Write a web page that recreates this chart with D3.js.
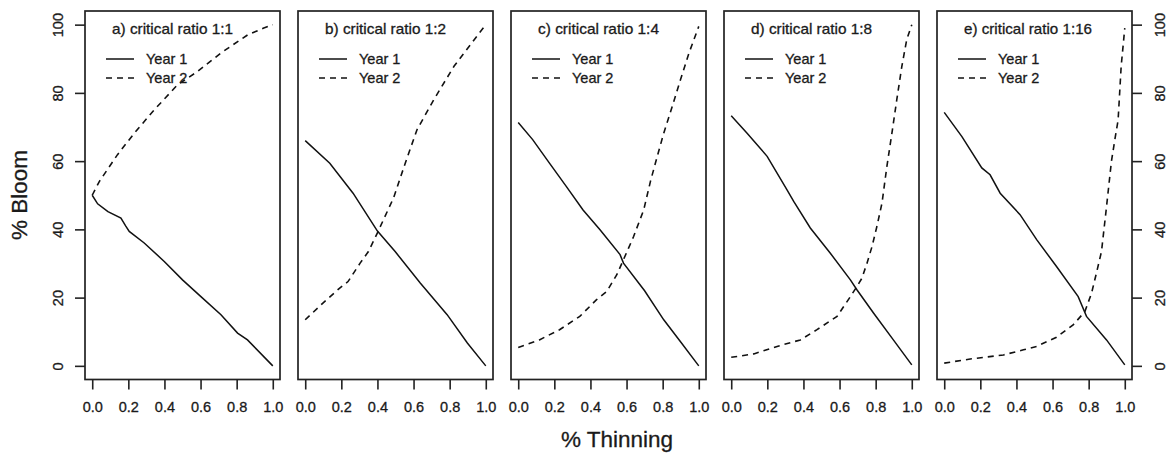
<!DOCTYPE html>
<html>
<head>
<meta charset="utf-8">
<script src="https://cdnjs.cloudflare.com/ajax/libs/d3/7.8.5/d3.min.js"></script>
<style>
  body { margin: 0; background: #fff; }
  svg { font-family: "Liberation Sans", Arial, sans-serif; }
  text { fill: #1a1a1a; stroke: #1a1a1a; stroke-width: 0.3px; }
</style>
</head>
<body>
<svg id="chart"></svg>
<script>
var panelTitles = ['a) critical ratio 1:1', 'b) critical ratio 1:2', 'c) critical ratio 1:4',
                   'd) critical ratio 1:8', 'e) critical ratio 1:16'];
var legendLabels = ['Year 1', 'Year 2'];
var xTicks = [0, 0.2, 0.4, 0.6, 0.8, 1.0];
var yTicks = [0, 20, 40, 60, 80, 100];

// [thinning, bloom]
var year1A = [[0, 50], [0.03, 47.5], [0.087, 45.2], [0.159, 43.3], [0.185, 41], [0.205, 39.4],
  [0.288, 36], [0.399, 30.6], [0.5, 25.2], [0.602, 20.3], [0.713, 15], [0.805, 9.6],
  [0.86, 7.6], [1.0, 0]];
var year2A = [[0, 50], [0.039, 54], [0.14, 61.9], [0.233, 68.2], [0.343, 75], [0.473, 82.4],
  [0.584, 86.3], [0.713, 91.7], [0.861, 97], [0.95, 99], [1.0, 100]];

var year1B = [[0, 66], [0.136, 59.4], [0.265, 50.6], [0.4, 39.5], [0.498, 33.5], [0.637, 24.3],
  [0.786, 15], [0.898, 6.7], [1.0, 0]];
var year2B = [[0, 13.5], [0.098, 18.4], [0.191, 22.8], [0.237, 24.7], [0.304, 30.1], [0.35, 33.5],
  [0.4, 39], [0.489, 49.2], [0.554, 59.4], [0.619, 69.2], [0.712, 78], [0.824, 87.8],
  [0.936, 95.6], [1.0, 100]];

var year1C = [[0, 71.3], [0.08, 66.3], [0.173, 59.4], [0.266, 52.6], [0.359, 45.7], [0.453, 39.9],
  [0.564, 32.6], [0.583, 30.1], [0.7, 22], [0.806, 13.5], [0.9, 7], [1.0, 0]];
var year2C = [[0, 5.4], [0.117, 7.6], [0.229, 10.6], [0.341, 14.5], [0.434, 19.4], [0.49, 21.8],
  [0.546, 26.7], [0.611, 34.5], [0.639, 37.9], [0.695, 45.7], [0.732, 54], [0.77, 61.4],
  [0.806, 68.2], [0.853, 76], [0.899, 83.9], [0.946, 91.7], [1.0, 99.5]];

var year1D = [[0, 73.3], [0.088, 68.2], [0.199, 61.4], [0.309, 51.6], [0.346, 48.2], [0.438, 40.4],
  [0.549, 33], [0.66, 25.2], [0.696, 22.3], [0.788, 15.5], [0.898, 7.6], [1.0, 0.3]];
var year2D = [[0, 2.5], [0.125, 3.5], [0.254, 5.7], [0.383, 7.6], [0.475, 10.6], [0.586, 14.5],
  [0.623, 17.4], [0.66, 20.3], [0.697, 23.3], [0.724, 25.7], [0.752, 30.1], [0.78, 35],
  [0.807, 40.9], [0.835, 47.7], [0.862, 58.4], [0.89, 68.2], [0.917, 78], [0.945, 87.8],
  [0.972, 95.6], [1.0, 100]];

var year1E = [[0, 74.3], [0.098, 67.2], [0.208, 58], [0.254, 56], [0.31, 50.6], [0.42, 44.3],
  [0.512, 37], [0.622, 29.1], [0.742, 20.3], [0.788, 14.5], [0.899, 7.6], [1.0, 0.3]];
var year2E = [[0, 0.8], [0.144, 2], [0.328, 3.2], [0.439, 4.7], [0.512, 5.7], [0.622, 8.4],
  [0.714, 12], [0.779, 15.9], [0.816, 21.3], [0.843, 27.2], [0.871, 33.5], [0.899, 46.7],
  [0.926, 59.9], [0.945, 66.3], [0.963, 72], [0.98, 87.8], [1.0, 99]];

var year1Series = [year1A, year1B, year1C, year1D, year1E];
var year2Series = [year2A, year2B, year2C, year2D, year2E];

var width = 1174;
var height = 454;
var panelLeft = 85;
var panelStep = 213;
var panelWidth = 195;
var panelTop = 11;
var panelBottom = 379.5;
var dash = '6,5';
var fontFamily = '"Liberation Sans", Arial, sans-serif';

var svg = d3.select('#chart')
  .attr('width', width)
  .attr('height', height);

var yScale = d3.scaleLinear()
  .domain([-4, 104])
  .range([panelBottom, panelTop]);

var line = d3.line();

for (var i = 0; i < panelTitles.length; i++) {
  var left = panelLeft + i * panelStep;
  var xScale = d3.scaleLinear()
    .domain([-0.04, 1.04])
    .range([left, left + panelWidth]);

  line.x(function(d) { return xScale(d[0]); })
    .y(function(d) { return yScale(d[1]); });

  var g = svg.append('g');

  g.append('path')
    .attr('d', line(year2Series[i]))
    .attr('fill', 'none')
    .attr('stroke', '#111')
    .attr('stroke-width', 1.6)
    .attr('stroke-dasharray', dash);

  g.append('path')
    .attr('d', line(year1Series[i]))
    .attr('fill', 'none')
    .attr('stroke', '#111')
    .attr('stroke-width', 1.5);

  // box
  g.append('rect')
    .attr('x', left)
    .attr('y', panelTop)
    .attr('width', panelWidth)
    .attr('height', panelBottom - panelTop)
    .attr('fill', 'none')
    .attr('stroke', '#222')
    .attr('stroke-width', 1.7);

  // x axis
  var xAxis = g.append('g')
    .attr('transform', 'translate(0,' + panelBottom + ')')
    .call(d3.axisBottom(xScale)
      .tickValues(xTicks)
      .tickSize(10)
      .tickPadding(12)
      .tickFormat(d3.format('.1f')));
  xAxis.select('.domain').remove();
  xAxis.selectAll('line').attr('stroke', '#222').attr('stroke-width', 1.6);
  xAxis.selectAll('text')
    .attr('font-size', 14.5)
    .attr('font-family', fontFamily)
    .attr('fill', '#1a1a1a');

  // legend
  var lx = left + 21;
  g.append('text')
    .attr('x', left + 27)
    .attr('y', 34)
    .attr('font-size', 15)
    .attr('textLength', i == 4 ? 128 : 121)
    .attr('lengthAdjust', 'spacingAndGlyphs')
    .text(panelTitles[i]);

  for (var k = 0; k < legendLabels.length; k++) {
    var ly = 59 + k * 19;
    g.append('line')
      .attr('x1', lx)
      .attr('x2', lx + 28)
      .attr('y1', ly)
      .attr('y2', ly)
      .attr('stroke', '#111')
      .attr('stroke-width', 1.5)
      .attr('stroke-dasharray', k == 1 ? dash : null);
    g.append('text')
      .attr('x', lx + 40)
      .attr('y', ly + 5)
      .attr('font-size', 14.5)
      .text(legendLabels[k]);
  }
}

// y axes (left on first panel, right on last)
function yAxisLabels(sel, offset) {
  sel.select('.domain').remove();
  sel.selectAll('line').attr('stroke', '#222').attr('stroke-width', 1.6);
  sel.selectAll('text')
    .attr('x', null)
    .attr('dy', null)
    .attr('text-anchor', 'middle')
    .attr('font-size', 14.5)
    .attr('font-family', fontFamily)
    .attr('fill', '#1a1a1a')
    .attr('transform', 'translate(' + offset + ',0) rotate(-90)');
}

svg.append('g')
  .attr('transform', 'translate(' + panelLeft + ',0)')
  .call(d3.axisLeft(yScale).tickValues(yTicks).tickSize(10))
  .call(yAxisLabels, -22);

var rightEdge = panelLeft + 4 * panelStep + panelWidth;
svg.append('g')
  .attr('transform', 'translate(' + rightEdge + ',0)')
  .call(d3.axisRight(yScale).tickValues(yTicks).tickSize(10))
  .call(yAxisLabels, 33);

// axis titles
svg.append('text')
  .attr('transform', 'translate(27,195) rotate(-90)')
  .attr('text-anchor', 'middle')
  .attr('font-size', 22.5)
  .text('% Bloom');

svg.append('text')
  .attr('x', 617)
  .attr('y', 447)
  .attr('text-anchor', 'middle')
  .attr('font-size', 22.5)
  .text('% Thinning');
</script>
</body>
</html>
